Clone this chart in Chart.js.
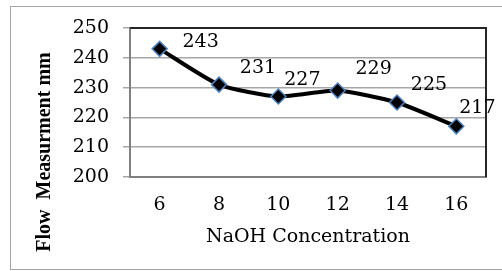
<!DOCTYPE html>
<html>
<head>
<meta charset="utf-8">
<script src="https://cdn.jsdelivr.net/npm/chart.js@4/dist/chart.umd.min.js"></script>
<style>
html,body{margin:0;padding:0;background:#fff;}
#wrap{width:502px;height:271px;position:relative;}
</style>
</head>
<body>
<div id="wrap"><canvas id="c" width="502" height="271"></canvas></div>
<script>
const categories = ['6', '8', '10', '12', '14', '16'];
const flowValues = [243, 231, 227, 229, 225, 217];
const yTicks = [200, 210, 220, 230, 240, 250];
const xTitle = 'NaOH Concentration';
const yTitle = 'Flow  Measurment mm';

const FONT = '"DejaVu Serif", serif';

const framePlugin = {
  id: 'frame',
  beforeDraw(chart) {
    const ctx = chart.ctx;
    ctx.save();
    ctx.fillStyle = '#fff';
    ctx.fillRect(0, 0, chart.width, chart.height);
    ctx.strokeStyle = '#a6a6a6';
    ctx.lineWidth = 1;
    ctx.strokeRect(10.5, 6.5, 600, 263);
    ctx.restore();
  },
  beforeDatasetsDraw(chart) {
    const ctx = chart.ctx, a = chart.chartArea;
    ctx.save();
    ctx.strokeStyle = '#262626';
    ctx.lineWidth = 2;
    ctx.beginPath();
    ctx.moveTo(a.left, a.top);
    ctx.lineTo(a.right, a.top);
    ctx.lineTo(a.right, a.bottom);
    ctx.stroke();
    ctx.restore();
  },
  afterDraw(chart) {
    const ctx = chart.ctx;
    ctx.save();
    ctx.fillStyle = '#000';
    ctx.font = 'bold 20px "Liberation Serif", serif';
    ctx.textAlign = 'center';
    ctx.textBaseline = 'middle';
    ctx.translate(45, 152);
    ctx.rotate(-Math.PI / 2);
    ctx.fillText(yTitle, 0, 0);
    ctx.restore();
  }
};

const labelPlugin = {
  id: 'pointLabels',
  afterDatasetsDraw(chart, args, opts) {
    const ctx = chart.ctx;
    const meta = chart.getDatasetMeta(0);
    ctx.save();
    ctx.fillStyle = '#000';
    ctx.font = '19px ' + FONT;
    ctx.textAlign = 'center';
    ctx.textBaseline = 'middle';
    meta.data.forEach((pt, i) => {
      const off = opts.offsets[i];
      ctx.fillText(String(flowValues[i]), pt.x + off[0], pt.y + off[1]);
    });
    ctx.restore();
  }
};

new Chart(document.getElementById('c'), {
  type: 'line',
  data: {
    labels: categories,
    datasets: [{
      data: flowValues,
      borderColor: '#000',
      borderWidth: 4,
      tension: 0.2,
      pointStyle: 'rectRot',
      pointRadius: 7.5,
      pointBackgroundColor: '#000',
      pointBorderColor: '#4f81bd',
      pointBorderWidth: 1.5,
      clip: false
    }]
  },
  options: {
    responsive: false,
    animation: false,
    layout: { padding: { left: 0, top: 28, right: 16, bottom: 0 } },
    plugins: {
      legend: { display: false },
      tooltip: { enabled: false },
      pointLabels: { offsets: [[41, -7], [39, -17], [24, -16], [36, -22], [32, -17], [21, -18]] }
    },
    scales: {
      x: {
        type: 'category',
        offset: true,
        grid: { display: false, drawTicks: false },
        border: { display: true, color: '#808080', width: 2 },
        ticks: { color: '#000', font: { family: FONT, size: 19 }, padding: 17, maxRotation: 0 },
        title: { display: true, text: xTitle, color: '#000', font: { family: FONT, size: 19 }, padding: { top: 4, bottom: 23 } },
        afterFit(s) { s.height = 94; }
      },
      y: {
        min: 200, max: 250,
        afterBuildTicks(s) { s.ticks = yTicks.map(v => ({ value: v })); },
        grid: { color: '#a6a6a6', lineWidth: 1.5, tickLength: 7, drawTicks: true, tickColor: '#a6a6a6' },
        border: { display: true, color: '#808080', width: 2 },
        ticks: { color: '#000', font: { family: FONT, size: 19 }, padding: 14 },
        afterFit(s) { s.width = 130; }
      }
    }
  },
  plugins: [framePlugin, labelPlugin]
});
</script>
</body>
</html>
